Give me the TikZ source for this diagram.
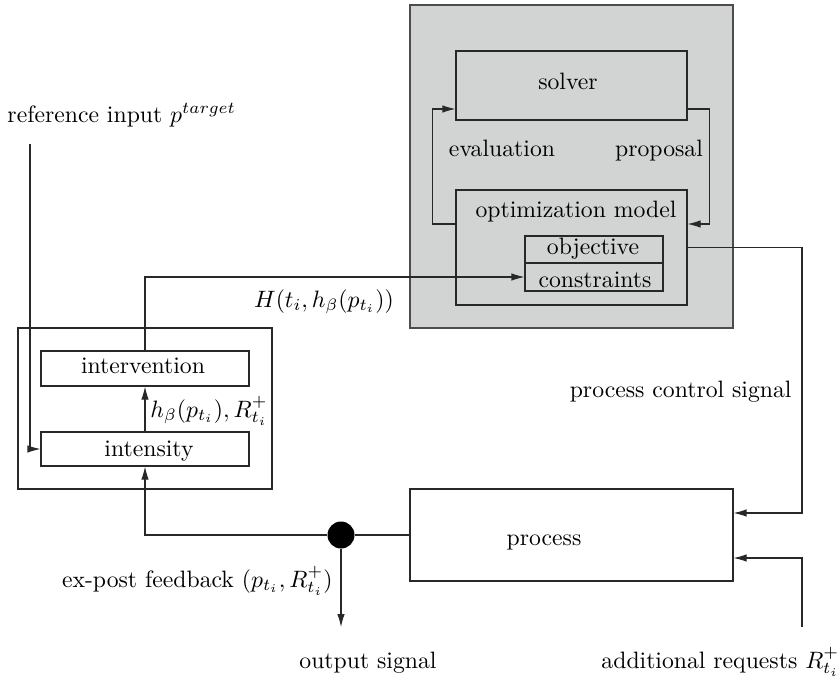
\documentclass[tikz,border=0pt]{standalone}
\usetikzlibrary{arrows.meta}
\definecolor{panelgray}{RGB}{210,211,211}
\definecolor{linecol}{RGB}{40,40,40}
\begin{document}
\begin{tikzpicture}[x=1pt,y=-1pt,
  box/.style={draw=linecol, line width=1.1pt, rectangle, inner sep=0pt},
  wire/.style={draw=linecol, line width=1.1pt},
  arr/.style={wire, -{Latex[length=13pt,width=7.5pt]}},
  txt/.style={inner sep=0pt, scale=2.37},
  lbl/.style={txt, anchor=base}]
\useasboundingbox (0,0) rectangle (839,683);

% optimisation panel
\node[box, fill=panelgray, draw=black!70, minimum width=323, minimum height=323] (panel) at (571.5,166.5) {};
\node[box, minimum width=231, minimum height=69] (solver) at (571.5,85.5) {};
\node[box, minimum width=231, minimum height=115] (optmodel) at (571.5,247.5) {};
\node[box, minimum width=138, minimum height=27] (objective) at (594,249.5) {};
\node[box, minimum width=138, minimum height=28] (constraints) at (594,277) {};
\node[lbl] at (568,89) {solver};
\node[lbl] at (502,156) {evaluation};
\node[lbl] at (659,156) {proposal};
\node[lbl] at (576,217) {optimization model};
\node[lbl] at (593,254) {objective};
\node[lbl] at (595,287) {constraints};

% solver loop
\draw[arr] ([yshift=23.5pt]optmodel.west) -- ++(-23,0) |- ([yshift=-23.5pt]solver.west);
\draw[arr] ([yshift=-23.5pt]solver.east) -- ++(22,0) |- ([yshift=23.5pt]optmodel.east);

% controller
\node[box, minimum width=254, minimum height=161] (controller) at (145,408.5) {};
\node[box, minimum width=208, minimum height=35] (intervention) at (145,368.5) {};
\node[box, minimum width=208, minimum height=34] (intensity) at (145,449) {};
\node[lbl] at (143,373) {intervention};
\node[lbl] at (149,456) {intensity};
\draw[arr] (intensity.north) -- (intervention.south);
\node[txt, anchor=base west] at (150,417) {$h_\beta(p_{t_i}), R^+_{t_i}$};

% reference input
\coordinate (refin) at (30,144);
\node[txt, anchor=base west] at (7,122) {reference input $p^{target}$};
\draw[arr] (refin) |- (intensity.west);

% intervention to constraints
\draw[arr] (intervention.north) |- (constraints.west);
\node[lbl] at (324,307) {$H(t_i,h_\beta(p_{t_i}))$};

% process
\node[box, minimum width=323, minimum height=92] (process) at (571.5,535) {};
\node[lbl] at (544,545) {process};
\draw[arr] (optmodel.east) -- (802,247.5) |- ([yshift=22pt]process.east);
\node[txt, anchor=base east] at (792,397) {process control signal};
\coordinate (addreq) at (802,627);
\draw[arr] (addreq) |- ([yshift=-23pt]process.east);
\node[txt, anchor=base west] at (601,668) {additional requests $R^+_{t_i}$};

% feedback and output
\node[circle, fill=black, inner sep=0pt, minimum size=27pt] (dot) at (341,535) {};
\draw[arr] (process.west) -- (dot.east) (dot.west) -| (intensity.south);
\coordinate (out) at (341,627);
\draw[arr] (dot) -- (out);
\node[txt, anchor=base east] at (333,587) {ex-post feedback $(p_{t_i},R^+_{t_i})$};
\node[lbl] at (368,668) {output signal};
\end{tikzpicture}
\end{document}
